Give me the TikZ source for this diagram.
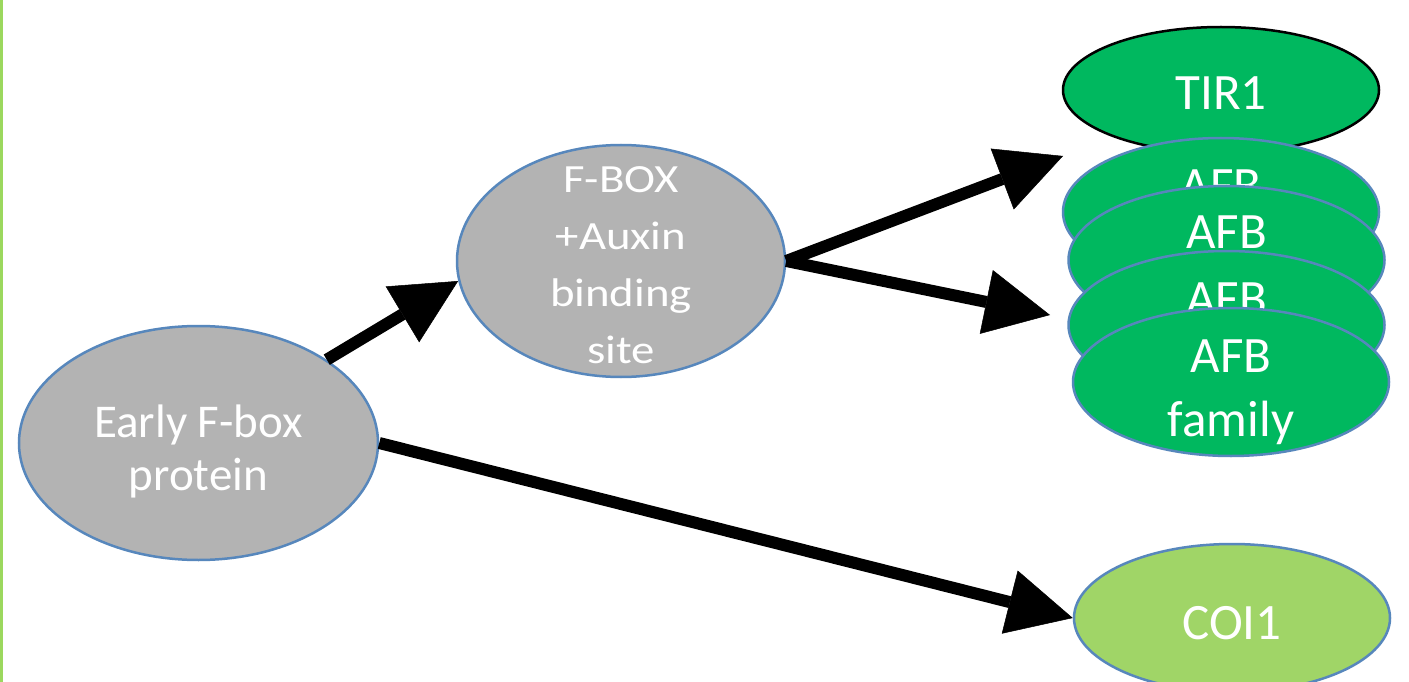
\documentclass[tikz,border=0pt]{standalone}
\usepackage{fontspec}
\setmainfont{Carlito}
\newfontfamily\widefont[FakeStretch=1.17]{Carlito}
\usetikzlibrary{shapes.geometric,arrows.meta}
\definecolor{edgeblue}{HTML}{5787BC}
\definecolor{protgray}{HTML}{B3B3B3}
\definecolor{auxgreen}{HTML}{00B85F}
\definecolor{jagreen}{HTML}{A0D567}
\definecolor{sidebar}{HTML}{9BD85E}
\begin{document}
\begin{tikzpicture}[x=1pt,y=-1pt,
  blob/.style={ellipse, draw=edgeblue, line width=2.5pt, inner sep=0pt,
               minimum width=316pt, minimum height=148pt},
  grayblob/.style={blob, fill=protgray},
  afbblob/.style={blob, fill=auxgreen},
  word/.style={text=white, align=center, inner sep=0pt,
               font=\fontsize{51}{64}\selectfont},
  arrowline/.style={line width=12pt,
               -{Triangle[length=65pt,width=65pt,line width=0.5pt]}}]
\useasboundingbox (0,0) rectangle (1409,682);
\fill[white] (0,0) rectangle (1409,682);
\draw[sidebar, line width=3pt] (1.5,0) -- (1.5,682);

% ancestral protein and auxin-binding intermediate
\node[grayblob, minimum width=359pt, minimum height=234pt] (early) at (198.5,443) {};
\node[word, font=\fontsize{47}{53}\selectfont, yshift=-8pt] (early-t) at (early) {Early F-box\\protein};

\node[grayblob, minimum width=328pt, minimum height=232pt] (fbox) at (621,261) {};
\node[word, font=\fontsize{40}{57}\widefont, yshift=-4pt] (fbox-t) at (fbox) {F-BOX\\+Auxin\\binding\\site};

% receptor stack, each layer hiding the one before it
\node[afbblob, draw=black, minimum height=126pt] (tir) at (1221,90) {};
\node[word, yshift=-3pt] (tir-t) at (tir) {TIR1};

\node[afbblob] (afba) at (1221,212) {};
\node[word, anchor=base] (afba-t) at (1221,203) {AFB};
\node[afbblob] (afbb) at (1226.5,260) {};
\node[word, anchor=base] (afbb-t) at (1226.5,248) {AFB};
\node[afbblob] (afbc) at (1226.5,325) {};
\node[word, anchor=base] (afbc-t) at (1226.5,315) {AFB};
\node[afbblob] (afbd) at (1231,382) {};
\node[word, yshift=-10pt] (afbd-t) at (afbd) {AFB\\family};

% jasmonate receptor
\node[blob, fill=jagreen] (coi) at (1232,618) {};
\node[word, yshift=-5pt] (coi-t) at (coi) {COI1};

% free arrow ends pointing at the stack
\coordinate (tirend) at (1063,156);
\coordinate (afbend) at (1050,315);

\draw[arrowline] (early.33) -- (fbox.187);
\draw[arrowline] (fbox.east) -- (tirend);
\draw[arrowline] (fbox.east) -- (afbend);
\draw[arrowline] (early.east) -- (coi.west);
\end{tikzpicture}
\end{document}
